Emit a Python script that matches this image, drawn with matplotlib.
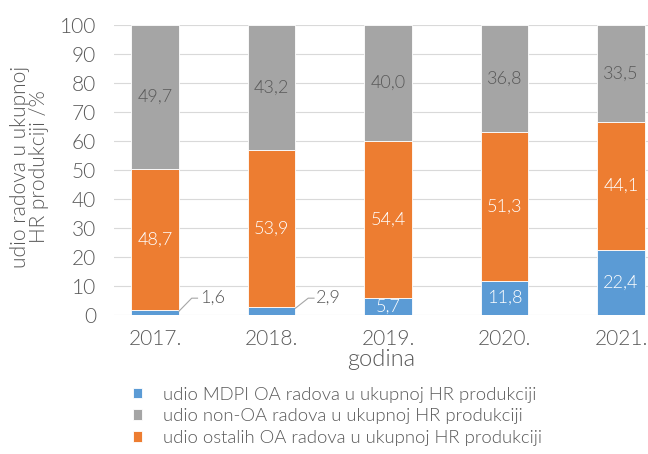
import matplotlib.pyplot as plt
import numpy as np

years = ["2017.", "2018.", "2019.", "2020.", "2021."]
mdpi = [1.6, 2.9, 5.7, 11.8, 22.4]
ostali = [48.7, 53.9, 54.4, 51.3, 44.1]
non_oa = [49.7, 43.2, 40.0, 36.8, 33.5]

c_blue = "#5B9BD5"
c_orange = "#ED7D31"
c_grey = "#A5A5A5"
txt = "#595959"

plt.rcParams['font.family'] = ['Lato', 'DejaVu Sans']
plt.rcParams['font.weight'] = 300
plt.rcParams['axes.labelweight'] = 300

fig = plt.figure(figsize=(6.48, 4.54), dpi=100)
ax = fig.add_axes([114 / 648, 1 - 315 / 454, (648 - 114) / 648, 290 / 454])

x = np.arange(len(years))
w = 0.41
mdpi_a = np.array(mdpi)
ost_a = np.array(ostali)
non_a = np.array(non_oa)

b1 = ax.bar(x, mdpi_a, w, color=c_blue, edgecolor="white", linewidth=0.6, zorder=3,
            label="udio MDPI OA radova u ukupnoj HR produkciji")
b3 = ax.bar(x, ost_a, w, bottom=mdpi_a, color=c_orange, edgecolor="white", linewidth=0.6, zorder=3,
            label="udio ostalih OA radova u ukupnoj HR produkciji")
b2 = ax.bar(x, non_a, w, bottom=mdpi_a + ost_a, color=c_grey, edgecolor="white", linewidth=0.6, zorder=3,
            label="udio non-OA radova u ukupnoj HR produkciji")

def fmt(v):
    return f"{v:.1f}".replace(".", ",")

for i in range(len(years)):
    ax.text(x[i], mdpi_a[i] + ost_a[i] / 2, fmt(ost_a[i]), ha="center", va="center",
            color="white", fontsize=13, zorder=4)
    ax.text(x[i], 100 - non_a[i] / 2, fmt(non_a[i]), ha="center", va="center",
            color=txt, fontsize=13, zorder=4)
    if mdpi_a[i] > 5:
        ax.text(x[i], mdpi_a[i] / 2, fmt(mdpi_a[i]), ha="center", va="center",
                color="white", fontsize=13, zorder=4)
    else:
        # small values go outside with a leader line
        x0 = x[i] + w / 2
        ax.plot([x0, x0 + 0.11, x0 + 0.16], [mdpi_a[i] * 0.8, 5.8, 5.8],
                color="#A6A6A6", lw=0.8, zorder=4, clip_on=False)
        ax.text(x0 + 0.18, 5.8, fmt(mdpi_a[i]), ha="left", va="center",
                color=txt, fontsize=13, zorder=4)

ax.set_xlim(-0.352, 4.232)
ax.set_ylim(0, 100)
ax.set_yticks(np.arange(0, 101, 10))
ax.set_xticks(x)
ax.set_xticklabels(years)
ax.tick_params(axis="both", length=0, labelsize=15, colors=txt)
ax.tick_params(axis="y", pad=13)
ax.tick_params(axis="x", pad=10)
ax.grid(axis="y", color="#D9D9D9", lw=0.8, zorder=0)
for s in ax.spines.values():
    s.set_visible(False)

ax.set_xlabel("godina", fontsize=17, color=txt, labelpad=0)
ax.set_ylabel("udio radova u ukupnoj\nHR produkciji /%", fontsize=15, color=txt,
              linespacing=0.9)
ax.yaxis.set_label_coords(-0.122, 0.51)

handles = [b1, b2, b3]
leg = fig.legend(handles, [h.get_label() for h in handles], loc="upper left",
                 bbox_to_anchor=(116 / 648, 1 - 370 / 454), frameon=False, fontsize=13.3,
                 handlelength=0.52, handleheight=0.52, handletextpad=1.15, labelspacing=0.3,
                 labelcolor=txt)

fig.savefig("out.png", dpi=100)
